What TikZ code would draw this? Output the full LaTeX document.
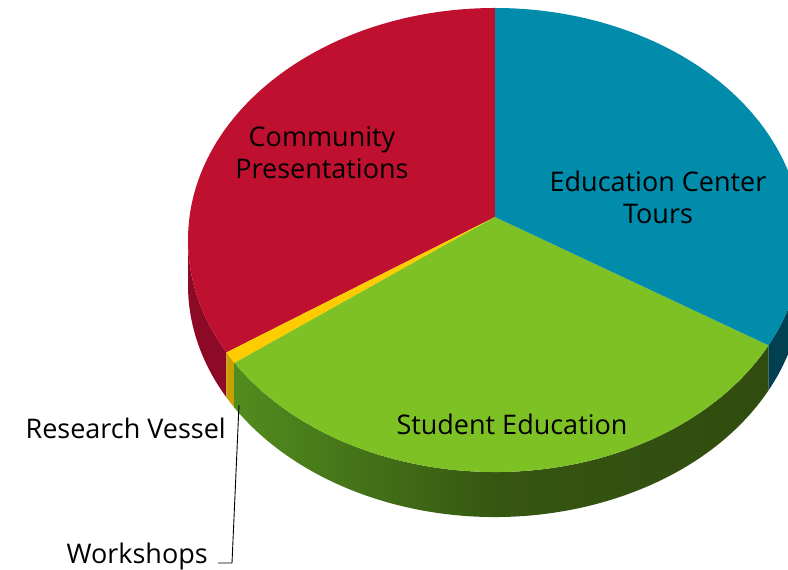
\documentclass[tikz,border=0pt]{standalone}
\usepackage{fontspec}
\setmainfont{Open Sans}
\usetikzlibrary{calc}
\definecolor{cred}{RGB}{192,16,48}
\definecolor{cteal}{RGB}{0,140,170}
\definecolor{cgreen}{RGB}{125,193,36}
\definecolor{cyellow}{RGB}{255,204,0}
\definecolor{sred}{RGB}{140,10,37}
\definecolor{steal}{RGB}{0,64,80}
\definecolor{syellow}{RGB}{200,160,0}
\definecolor{sgreenl}{RGB}{82,140,30}
\definecolor{sgreend}{RGB}{48,76,15}
\begin{document}
\begin{tikzpicture}[x=1pt,y=1pt,
  lbl/.style={font=\fontsize{27}{32}\selectfont, text=black, align=center, inner sep=0pt},
  leader/.style={draw=black, line width=0.9pt},
  ell/.style={x radius=307pt, y radius=232pt}]
\useasboundingbox (0,0) rectangle (788,570);
\coordinate (O) at (495,330);
\coordinate (C) at (495,353);
\begin{scope}
\clip (0,0) rectangle (788,570);
% sides
\fill[sred] ($(O)+(180:307pt and 232pt)$) arc[ell,start angle=180,end angle=209] -- ++(0,-45) arc[ell,start angle=209,end angle=180] -- cycle;
\fill[syellow] ($(O)+(209:307pt and 232pt)$) arc[ell,start angle=209,end angle=212] -- ++(0,-45) arc[ell,start angle=212,end angle=209] -- cycle;
\shade[left color=sgreenl, right color=sgreend, middle color=sgreend!85!sgreenl] ($(O)+(212:307pt and 232pt)$) arc[ell,start angle=212,end angle=333] -- ++(0,-45) arc[ell,start angle=333,end angle=212] -- cycle;
\fill[steal] ($(O)+(333:307pt and 232pt)$) arc[ell,start angle=333,end angle=360] -- ++(0,-45) arc[ell,start angle=360,end angle=333] -- cycle;
% tops
\fill[cred] (C) -- ($(O)+(90:307pt and 232pt)$) arc[ell,start angle=90,end angle=209] -- cycle;
\fill[cyellow] (C) -- ($(O)+(209:307pt and 232pt)$) arc[ell,start angle=209,end angle=212] -- cycle;
\fill[cgreen] (C) -- ($(O)+(212:307pt and 232pt)$) arc[ell,start angle=212,end angle=333] -- cycle;
\fill[cteal] (C) -- ($(O)+(333:307pt and 232pt)$) arc[ell,start angle=333,end angle=450] -- cycle;
\end{scope}
% labels
\node[lbl] (cp) at (322,417) {Community\\Presentations};
\node[lbl] (ect) at (658,373) {Education Center\\Tours};
\node[lbl] (se) at (512,146) {Student Education};
\node[lbl, anchor=east] (rv) at (226,142) {Research Vessel};
\node[lbl, anchor=east] (wk) at (208,14) {Workshops};
\coordinate (ys) at (239,165);
\coordinate (bend) at (232,7);
\draw[leader] (ys) -- (bend) -- (218,7);
\end{tikzpicture}
\end{document}
